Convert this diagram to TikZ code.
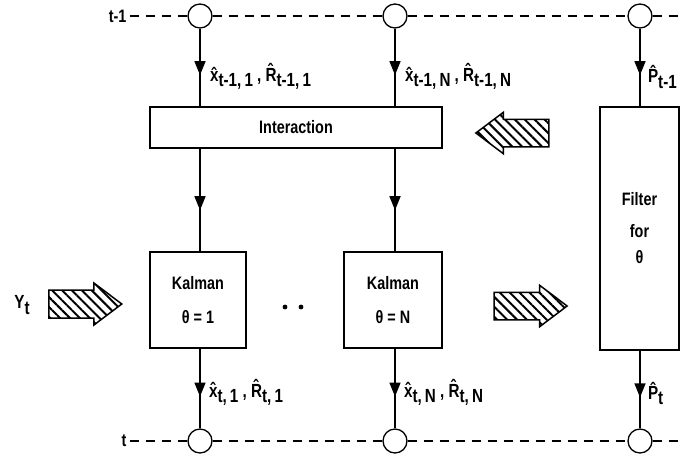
\documentclass[tikz,border=0pt]{standalone}
\usepackage{fontspec}
\setmainfont[FakeStretch=0.8]{Liberation Sans}
\usetikzlibrary{shapes.arrows,patterns.meta,decorations.markings,arrows.meta}
\newcommand{\hx}{\^{x}}
\newcommand{\hR}{\^{R}}
\newcommand{\hP}{\^{P}}
\newcommand{\lo}[1]{\raisebox{-0.55ex}{#1}}
\tikzset{
  blk/.style={draw, line width=1.8pt, inner sep=0pt, align=center},
  junc/.style={draw, circle, line width=1.3pt, minimum size=24pt, inner sep=0pt},
  tline/.style={line width=1.3pt, dash pattern=on 9pt off 7pt},
  flow/.style={line width=1.5pt, postaction={decorate},
    decoration={markings, mark=at position #1 with {\arrow{Triangle[length=14pt,width=11pt]}}}},
  flow/.default=0.6,
  lbl/.style={font=\bfseries\fontsize{19}{21}\selectfont},
  fat/.style={single arrow, draw, line width=1.5pt,
    pattern={Lines[angle=-45,distance=7pt,line width=2pt]},
    minimum height=73pt, minimum width=40pt, inner xsep=0pt, inner ysep=13pt,
    single arrow head extend=7pt, single arrow tip angle=74}
}
\begin{document}
\begin{tikzpicture}[x=1pt, y=-1pt, every node/.style={font=\bfseries\fontsize{18}{20}\selectfont}]
    \useasboundingbox (0,0) rectangle (682,456);

    % Tidssteg
    \node[anchor=east] (tprev) at (130,16) {t-1};
    \node[anchor=east] (tnow) at (130,441) {t};
    \node[junc] (a1) at (200,16) {};
    \node[junc] (a2) at (395,16) {};
    \node[junc] (a3) at (640,16) {};
    \node[junc] (b1) at (200,441) {};
    \node[junc] (b2) at (395,441) {};
    \node[junc] (b3) at (640,441) {};
    \coordinate (aend) at (700,16);
    \coordinate (bend) at (700,441);
    \draw[tline] (tprev) -- (a1) -- (a2) -- (a3) -- (aend);
    \draw[tline] (tnow) -- (b1) -- (b2) -- (b3) -- (bend);

    % Blokker
    \node[blk, minimum width=292pt, minimum height=41pt] (inter) at (296,127.5) {Interaction};
    \node[blk, minimum width=96pt, minimum height=96pt] (k1) at (198,300) {Kalman\\[14pt]θ = 1};
    \node[blk, minimum width=98pt, minimum height=96pt] (kN) at (393,300) {Kalman\\[14pt]θ = N};
    \node[blk, minimum width=79pt, minimum height=243pt] (filt) at (639.5,228.5) {Filter\\[12pt]for\\[6pt]θ};
    \fill (285,307) circle (2.4pt) (301,307) circle (2.4pt);

    % Piler
    \draw[flow] (a1) -- (a1 |- inter.north)
      node[lbl, pos=0.62, right=6pt] {\hx\lo{t-1,\,1} , \hR\lo{t-1,\,1}};
    \draw[flow] (a2) -- (a2 |- inter.north)
      node[lbl, pos=0.62, right=6pt] {\hx\lo{t-1,\,N} , \hR\lo{t-1,\,N}};
    \draw[flow] (a3) -- (a3 |- filt.north)
      node[lbl, pos=0.62, right=4pt] {\hP\lo{t-1}};
    \draw[flow] (inter.south -| a1) -- (a1 |- k1.north);
    \draw[flow] (inter.south -| a2) -- (a2 |- kN.north);
    \draw[flow] (a1 |- k1.south) -- (b1)
      node[lbl, pos=0.55, right=5pt] {\hx\lo{t,\,1} , \hR\lo{t,\,1}};
    \draw[flow] (a2 |- kN.south) -- (b2)
      node[lbl, pos=0.55, right=5pt] {\hx\lo{t,\,N} , \hR\lo{t,\,N}};
    \draw[flow] (a3 |- filt.south) -- (b3)
      node[lbl, pos=0.55, right=4pt] {\hP\lo{t}};

    % Brede piler
    \node[lbl] (yt) at (22,305) {Y\lo{t}};
    \node[fat] (fy) at (76,304) {};
    \node[fat] (fk) at (521.5,306) {};
    \node[fat, shape border rotate=180] (ff) at (521.5,133) {};
  \end{tikzpicture}
\end{document}
